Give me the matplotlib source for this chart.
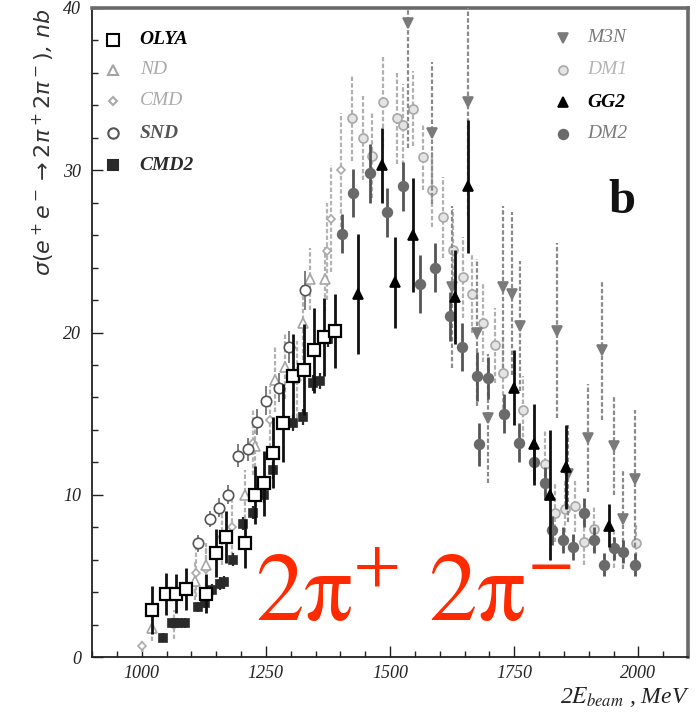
import matplotlib
matplotlib.use("Agg")
import matplotlib.pyplot as plt
from matplotlib.ticker import MultipleLocator
import numpy as np

plt.rcParams['font.family'] = ['Liberation Serif', 'DejaVu Serif']

# e+e- -> 2pi+2pi- cross section, nb, per experiment
olya_e = [1020, 1048, 1070, 1090, 1129, 1149, 1169, 1208, 1228, 1247, 1265, 1285, 1305, 1327, 1347, 1367, 1389]
olya_s = [2.9, 3.9, 3.9, 4.2, 3.9, 6.4, 7.4, 7.0, 10.0, 10.7, 12.6, 14.4, 17.3, 17.7, 18.9, 19.7, 20.1]
olya_d = [1.5, 1.3, 1.2, 1.3, 1.2, 1.5, 1.6, 1.5, 1.8, 2.0, 2.2, 2.4, 2.6, 2.8, 2.6, 2.4, 2.3]

nd_e = [1020, 1107, 1130, 1208, 1228, 1268, 1288, 1325, 1339, 1369]
nd_s = [1.8, 4.7, 5.7, 10.0, 13.0, 17.1, 17.9, 20.6, 23.3, 23.3]
nd_d = [0.8, 1.2, 1.3, 1.5, 1.7, 2.0, 2.0, 2.3, 1.9, 2.0]

cmd_e = [1000, 1066, 1110, 1130, 1161, 1181, 1224, 1258, 1312, 1373, 1382, 1402]
cmd_s = [0.7, 2.0, 5.2, 5.4, 7.4, 8.0, 13.2, 14.6, 17.1, 25.0, 27.0, 30.0]
cmd_d = [0.4, 0.9, 1.5, 1.5, 1.7, 1.8, 2.0, 2.1, 2.4, 3.0, 3.3, 3.5]

snd_e = [1114, 1137, 1156, 1174, 1194, 1214, 1232, 1251, 1276, 1297, 1329]
snd_s = [7.0, 8.5, 9.2, 10.0, 12.4, 12.8, 14.5, 15.8, 16.6, 19.1, 22.6]
snd_d = [0.5, 0.5, 0.6, 0.6, 0.7, 0.7, 0.8, 0.9, 0.9, 1.0, 1.2]

cmd2_e = [1043, 1062, 1073, 1087, 1114, 1127, 1141, 1157, 1166, 1184, 1204, 1224, 1247, 1265, 1305, 1324, 1345, 1359, 1376]
cmd2_s = [1.2, 2.1, 2.1, 2.1, 3.1, 3.3, 4.1, 4.5, 4.6, 6.0, 8.2, 8.9, 10.0, 11.5, 14.4, 14.8, 16.9, 17.0, 19.6]
cmd2_d = [0.3, 0.3, 0.3, 0.3, 0.3, 0.3, 0.4, 0.4, 0.4, 0.4, 0.4, 0.4, 0.5, 0.5, 0.5, 0.5, 0.5, 0.5, 0.5]

m3n_e = [1537, 1584, 1624, 1658, 1675, 1698, 1728, 1745, 1762, 1836, 1859, 1898, 1927, 1950, 1970, 1993]
m3n_s = [39.1, 32.3, 22.8, 34.2, 20.0, 14.7, 22.8, 22.4, 20.4, 20.1, 11.3, 13.5, 18.9, 13.0, 8.5, 11.0]
m3n_d = [7.7, 4.4, 5.0, 7.0, 4.5, 4.0, 5.0, 5.0, 4.0, 5.4, 3.0, 3.3, 4.3, 3.0, 3.1, 4.2]

dm1_e = [1423, 1445, 1464, 1486, 1514, 1527, 1546, 1566, 1585, 1607, 1627, 1647, 1665, 1687, 1712,
         1728, 1768, 1812, 1833, 1853, 1873, 1890, 1910, 1950, 1995]
dm1_s = [33.2, 32.0, 30.9, 34.2, 33.2, 32.8, 33.8, 30.8, 28.8, 27.1, 25.1, 23.4, 22.4, 20.6, 19.2,
         17.5, 15.2, 11.9, 8.9, 9.1, 9.3, 7.1, 7.9, 6.7, 7.0]
dm1_d = [2.6, 2.6, 2.6, 2.8, 2.8, 2.5, 2.3, 2.0, 2.3, 2.5, 2.5, 2.5, 2.4, 2.4, 2.3,
         2.2, 2.1, 2.0, 1.8, 1.8, 1.6, 1.4, 1.4, 1.2, 1.2]

gg2_e = [1435, 1483, 1510, 1547, 1631, 1658, 1749, 1790, 1822, 1855, 1940]
gg2_s = [22.4, 30.3, 23.1, 26.0, 22.2, 29.0, 16.6, 13.1, 10.0, 11.7, 8.1]
gg2_d = [3.7, 2.3, 2.8, 3.5, 2.9, 4.1, 2.3, 2.5, 4.0, 2.6, 1.3]

dm2_e = [1403, 1426, 1460, 1493, 1527, 1560, 1591, 1620, 1645, 1675, 1680, 1698, 1730, 1760, 1790,
         1812, 1826, 1849, 1869, 1890, 1910, 1931, 1952, 1970, 1993]
dm2_s = [26.1, 28.6, 29.8, 27.4, 29.0, 23.0, 24.0, 21.0, 19.1, 17.3, 13.1, 17.2, 15.0, 13.2, 12.0,
         10.7, 7.8, 7.2, 6.8, 8.9, 7.2, 5.7, 6.7, 6.5, 5.7]
dm2_d = [1.2, 1.5, 1.8, 1.5, 1.5, 1.8, 1.5, 1.5, 1.5, 1.5, 1.3, 1.3, 1.2, 1.2, 1.1,
         1.0, 0.9, 0.8, 0.8, 0.9, 0.8, 0.7, 0.7, 0.7, 0.7]

x_ticks = [1000, 1250, 1500, 1750, 2000]
y_ticks = [0, 10, 20, 30, 40]

fig = plt.figure(figsize=(6.98, 7.23), dpi=100)
ax = fig.add_axes([92 / 698, 66 / 723, 596 / 698, 649 / 723])


def draw(e, s, d, marker, ms, fc, ec, barc, dashed, z, mew=1.2, lw=1.6):
    cont = ax.errorbar(e, s, yerr=d, fmt=marker, ms=ms, mfc=fc, mec=ec, mew=mew,
                       ecolor=barc, elinewidth=lw, capsize=0, zorder=z)
    if dashed:
        cont[2][0].set_linestyle((0, (2.0, 1.0)))
    return cont


# grey sets first, black sets on top
draw(dm1_e, dm1_s, dm1_d, 'o', 6.5, '#e4e4e4', '#a8a8a8', '#b0b0b0', True, 2)
draw(m3n_e, m3n_s, m3n_d, 'v', 6.5, '#7a7a7a', '#7a7a7a', '#8a8a8a', True, 3)
draw(cmd_e, cmd_s, cmd_d, 'D', 4.5, 'white', '#aaaaaa', '#b5b5b5', True, 2)
draw(nd_e, nd_s, nd_d, '^', 6.5, 'white', '#a5a5a5', '#b0b0b0', True, 2)
draw(snd_e, snd_s, snd_d, 'o', 7.5, 'white', '#555555', '#666666', False, 3, lw=1.2)
draw(dm2_e, dm2_s, dm2_d, 'o', 7, '#6a6a6a', '#6a6a6a', '#555555', False, 4, lw=2.0)
draw(cmd2_e, cmd2_s, cmd2_d, 's', 5.5, '#2a2a2a', '#2a2a2a', '#2a2a2a', False, 5)
draw(olya_e, olya_s, olya_d, 's', 8.5, 'white', 'black', '#111111', False, 6, mew=1.6, lw=2.0)
draw(gg2_e, gg2_s, gg2_d, '^', 7.5, 'black', 'black', '#111111', False, 6, lw=2.0)

ax.set_xlim(900, 2100)
ax.set_ylim(0, 40)
ax.set_xticks(x_ticks)
ax.set_yticks(y_ticks)
ax.xaxis.set_minor_locator(MultipleLocator(50))
ax.yaxis.set_minor_locator(MultipleLocator(2))
ax.tick_params(which='both', direction='in', top=False, right=False, width=1.0, color='#222222')
ax.tick_params(which='major', length=8, labelsize=13)
ax.tick_params(axis='x', which='major', pad=6)
ax.tick_params(axis='y', which='major', pad=8)
ax.tick_params(which='minor', length=4)
for lab in ax.get_xticklabels() + ax.get_yticklabels():
    lab.set_fontstyle('italic')
    lab.set_color('#222222')

for side in ['left', 'bottom']:
    ax.spines[side].set_linewidth(1.3)
    ax.spines[side].set_color('#222222')
for side in ['top', 'right']:
    ax.spines[side].set_linewidth(2.6)
    ax.spines[side].set_color('#6a6a6a')

# legend, left column
left_rows = [
    ('OLYA', 's', 8.5, 'white', 'black', 'black', 'bold'),
    ('ND', '^', 6.5, 'white', '#a5a5a5', '#aaaaaa', 'normal'),
    ('CMD', 'D', 4.5, 'white', '#aaaaaa', '#aaaaaa', 'normal'),
    ('SND', 'o', 7.5, 'white', '#555555', '#555555', 'bold'),
    ('CMD2', 's', 6.5, '#2a2a2a', '#2a2a2a', '#2a2a2a', 'bold'),
]
left_y = [0.951, 0.905, 0.857, 0.807, 0.758]
for (name, mk, ms, fc, ec, tc, wt), yy in zip(left_rows, left_y):
    ax.plot([0.035], [yy], mk, ms=ms, mfc=fc, mec=ec, mew=1.5, transform=ax.transAxes, clip_on=False)
    ax.text(0.08, yy, name, transform=ax.transAxes, ha='left', va='center', fontsize=14,
            style='italic', weight=wt, color=tc)

# legend, right column
right_rows = [
    ('M3N', 'v', 6.5, '#7a7a7a', '#7a7a7a', '#7a7a7a', 'normal'),
    ('DM1', 'o', 6.5, '#e4e4e4', '#a8a8a8', '#b5b5b5', 'normal'),
    ('GG2', '^', 7.5, 'black', 'black', 'black', 'bold'),
    ('DM2', 'o', 7, '#6a6a6a', '#6a6a6a', '#7a7a7a', 'normal'),
]
right_y = [0.954, 0.905, 0.855, 0.806]
for (name, mk, ms, fc, ec, tc, wt), yy in zip(right_rows, right_y):
    ax.plot([0.790], [yy], mk, ms=ms, mfc=fc, mec=ec, mew=1.2, transform=ax.transAxes, clip_on=False)
    ax.text(0.8305, yy, name, transform=ax.transAxes, ha='left', va='center', fontsize=14,
            style='italic', weight=wt, color=tc)

fig.text(622 / 698, (723 - 213) / 723, 'b', ha='center', va='baseline', fontsize=35,
         weight='bold', color='#111111')

fig.text(255 / 698, (723 - 620) / 723, r'$\mathrm{2\pi^{+}\,\,2\pi^{-}}$', ha='left', va='baseline',
         fontsize=70, color='#ff2a00', math_fontfamily='stix')

fig.text(44 / 698, (723 - 9) / 723, r'$\sigma(e^+e^- \rightarrow 2\pi^+2\pi^-)$, nb', rotation=90,
         ha='center', va='top', fontsize=16, family='DejaVu Sans', style='italic', color='#333333')

fig.text(690 / 698, (723 - 703) / 723, r'2$E_{beam}$ , MeV', ha='right', va='baseline',
         fontsize=17, style='italic', math_fontfamily='stix', color='#222222')

fig.savefig('out.png', dpi=100)
